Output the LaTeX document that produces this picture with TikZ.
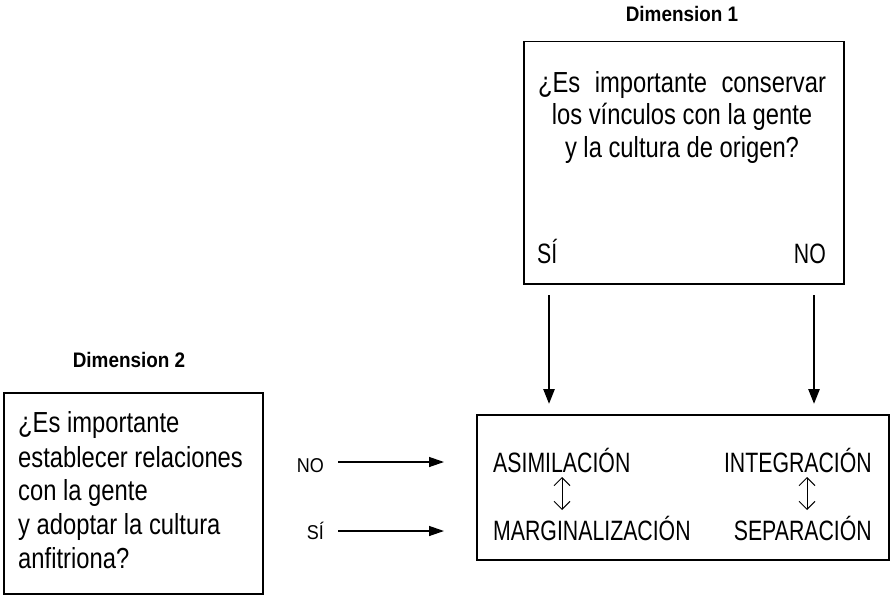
\documentclass[tikz,border=0pt]{standalone}
\usepackage{fontspec}
\setmainfont[FakeStretch=0.76]{Liberation Sans}
\newfontfamily\lowerfont[FakeStretch=0.82]{Liberation Sans}
\newfontfamily\dimfont[FakeStretch=0.9]{Liberation Sans}
\usetikzlibrary{arrows.meta}
\tikzset{
  frame/.style={draw, line width=1.5pt},
  txt/.style={inner sep=0pt, font=\fontsize{28}{34}\selectfont},
  ltxt/.style={inner sep=0pt, font=\lowerfont\fontsize{29}{34}\selectfont},
  lbl/.style={inner sep=0pt, font=\dimfont\fontsize{20}{24}\selectfont},
  dimlbl/.style={inner sep=0pt, font=\dimfont\bfseries\fontsize{21}{24}\selectfont},
  downarrow/.style={line width=2.6pt, -{Triangle[length=15pt,width=11pt]}},
  sidearrow/.style={line width=1.3pt, -{Triangle[length=15pt,width=10pt]}},
  swaparrow/.style={line width=1pt, {Straight Barb[length=8pt,width=16pt]}-{Straight Barb[length=8pt,width=16pt]}}
}
\begin{document}
\begin{tikzpicture}[x=1pt,y=-1pt]
\useasboundingbox (0,0) rectangle (890,594);
% boxes
\node[frame, minimum width=320pt, minimum height=242pt, anchor=north west, inner sep=0pt] (box1) at (523,41) {};
\node[frame, minimum width=412pt, minimum height=145pt, anchor=north west, inner sep=0pt] (box2) at (476,414) {};
\node[frame, minimum width=259pt, minimum height=201pt, anchor=north west, inner sep=0pt] (box3) at (3,392) {};
% dimension labels
\node[dimlbl, anchor=base] (dim1) at (682,22) {Dimension 1};
\node[dimlbl, anchor=base] (dim2) at (129,367) {Dimension 2};
% top box text
\node[ltxt, anchor=base] (q1a) at (682,92) {\makebox[288pt][s]{¿Es importante conservar}};
\node[ltxt, anchor=base] (q1b) at (682,124.5) {los vínculos con la gente};
\node[ltxt, anchor=base] (q1c) at (682,157) {y la cultura de origen?};
\node[txt, anchor=base west] (si1) at (537,263) {SÍ};
\node[txt, anchor=base east] (no1) at (826,263) {NO};
% left box text
\node[ltxt, anchor=base west] (q2a) at (18,432) {¿Es importante};
\node[ltxt, anchor=base west] (q2b) at (18,467) {establecer relaciones};
\node[ltxt, anchor=base west] (q2c) at (18,500) {con la gente};
\node[ltxt, anchor=base west] (q2d) at (18,534) {y adoptar la cultura};
\node[ltxt, anchor=base west] (q2e) at (18,568) {anfitriona?};
% result box text
\node[txt, anchor=base west] (asim) at (493,472) {ASIMILACIÓN};
\node[txt, anchor=base east] (integ) at (872,472) {INTEGRACIÓN};
\node[txt, anchor=base west] (marg) at (493,540) {MARGINALIZACIÓN};
\node[txt, anchor=base east] (sep) at (872,540) {SEPARACIÓN};
% small labels
\node[lbl, anchor=base east] (no2) at (324,472) {NO};
\node[lbl, anchor=base east] (si2) at (324,539) {SÍ};
% coordinates
\coordinate (d1s) at (549,295);
\coordinate (d1e) at (549,404);
\coordinate (d2s) at (814,295);
\coordinate (d2e) at (814,404);
\coordinate (h1s) at (338,462);
\coordinate (h1e) at (444,462);
\coordinate (h2s) at (338,531);
\coordinate (h2e) at (444,531);
\coordinate (v1s) at (562,477);
\coordinate (v1e) at (562,510);
\coordinate (v2s) at (807,477);
\coordinate (v2e) at (807,510);
% arrows
\draw[downarrow] (d1s) -- (d1e);
\draw[downarrow] (d2s) -- (d2e);
\draw[sidearrow] (h1s) -- (h1e);
\draw[sidearrow] (h2s) -- (h2e);
\draw[swaparrow] (v1s) -- (v1e);
\draw[swaparrow] (v2s) -- (v2e);
\end{tikzpicture}
\end{document}
